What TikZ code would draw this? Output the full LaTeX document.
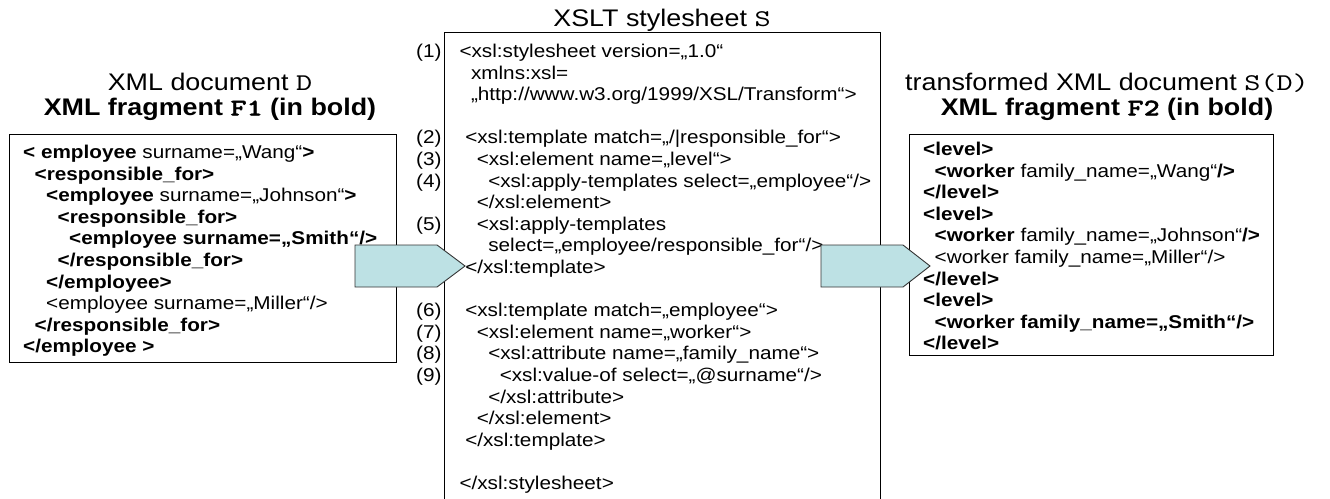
\documentclass[tikz,border=0pt]{standalone}
\usepackage{fontspec}
\setmainfont{Liberation Sans}[FakeStretch=1.12]
\setmonofont{lmmono10-regular.otf}[FakeStretch=1.28, BoldFont=lmmonolt10-bold.otf,
  BoldFeatures={FakeBold=1.5}]
\usetikzlibrary{calc}
\definecolor{flowcyan}{RGB}{189,225,228}
\newlength{\spw}
\setlength{\spw}{5.75pt}
\newcommand{\indt}[1]{\hspace*{#1\spw}}
\newcommand{\codefont}{\fontsize{18.5}{21.6}\selectfont}
\newcommand{\headfont}{\fontsize{24}{25}\selectfont}
\newcommand{\frag}[1]{{\ttfamily\bfseries #1}}

\begin{document}
\begin{tikzpicture}[
  x=1pt, y=-1pt,
  frame/.style={draw, line width=1pt, inner sep=0pt, anchor=north west},
  code/.style={anchor=base west, inner sep=0pt, font=\codefont},
  heading/.style={anchor=base, inner sep=0pt, font=\headfont},
  flow/.style={draw=black!80, line width=0.9pt, fill=flowcyan, line join=miter}
]
\useasboundingbox (0,0) rectangle (1330,498);
% ---- frames -----------------------------------------------------------------
\node[frame, minimum width=387pt, minimum height=228pt] (docD) at (9,134) {};
\node[frame, minimum width=436pt, minimum height=480pt] (xslS) at (444,32) {};
\node[frame, minimum width=364pt, minimum height=221pt] (outSD) at (909,134) {};

% ---- headings ---------------------------------------------------------------
\node[heading] (docDtitle) at (210,90.5) {\begin{tabular}[t]{@{}c@{}}
  XML document \texttt{D}\\ \textbf{XML fragment \frag{F1} (in bold)}\end{tabular}};
\node[heading] (xslStitle) at (662,26.5) {XSLT stylesheet \texttt{S}};
\node[heading] (outSDtitle) at (1107,90.5) {\begin{tabular}[t]{@{}c@{}}
  transformed XML document \texttt{S(D)}\\ \textbf{XML fragment \frag{F2} (in bold)}\end{tabular}};

% ---- texts ------------------------------------------------------------------
\node[code] (docDtext) at (23,158.5) {\begin{tabular}[t]{@{}l@{}}
  \textbf{< employee} surname=„Wang“\textbf{>}\\
  \indt{2}\textbf{<responsible\_for>}\\
  \indt{4}\textbf{<employee} surname=„Johnson“\textbf{>}\\
  \indt{6}\textbf{<responsible\_for>}\\
  \indt{8}\textbf{<employee surname=„Smith“/>}\\
  \indt{6}\textbf{</responsible\_for>}\\
  \indt{4}\textbf{</employee>}\\
  \indt{4}<employee surname=„Miller“/>\\
  \indt{2}\textbf{</responsible\_for>}\\
  \textbf{</employee >}
\end{tabular}};

\node[code] (xslStext) at (416,57.5) {\begin{tabular}[t]{@{}r@{\hspace{18pt}}l@{}}
  (1) & <xsl:stylesheet version=„1.0“\\
      & \indt{2}xmlns:xsl=\\
      & \indt{2}„http://www.w3.org/1999/XSL/Transform“>\\
      & \\
  (2) & \indt{1}<xsl:template match=„/|responsible\_for“>\\
  (3) & \indt{3}<xsl:element name=„level“>\\
  (4) & \indt{5}<xsl:apply-templates select=„employee“/>\\
      & \indt{3}</xsl:element>\\
  (5) & \indt{3}<xsl:apply-templates\\
      & \indt{5}select=„employee/responsible\_for“/>\\
      & \indt{1}</xsl:template>\\
      & \\
  (6) & \indt{1}<xsl:template match=„employee“>\\
  (7) & \indt{3}<xsl:element name=„worker“>\\
  (8) & \indt{5}<xsl:attribute name=„family\_name“>\\
  (9) & \indt{7}<xsl:value-of select=„@surname“/>\\
      & \indt{5}</xsl:attribute>\\
      & \indt{3}</xsl:element>\\
      & \indt{1}</xsl:template>\\
      & \\
      & </xsl:stylesheet>
\end{tabular}};

\node[code] (outSDtext) at (923,155.5) {\begin{tabular}[t]{@{}l@{}}
  \textbf{<level>}\\
  \indt{2}\textbf{<worker} family\_name=„Wang“\textbf{/>}\\
  \textbf{</level>}\\
  \textbf{<level>}\\
  \indt{2}\textbf{<worker} family\_name=„Johnson“\textbf{/>}\\
  \indt{2}<worker family\_name=„Miller“/>\\
  \textbf{</level>}\\
  \textbf{<level>}\\
  \indt{2}\textbf{<worker family\_name=„Smith“/>}\\
  \textbf{</level>}
\end{tabular}};

% ---- block arrows -----------------------------------------------------------
\coordinate (inTail) at (355,266);
\coordinate (inTip) at (465,266);
\coordinate (outTail) at (821,266);
\coordinate (outTip) at (930,266);
\draw[flow] ($(inTail)+(0,-21)$) -- ($(inTip)+(-28,-21)$) -- (inTip)
  -- ($(inTip)+(-28,21)$) -- ($(inTail)+(0,21)$) -- cycle;
\draw[flow] ($(outTail)+(0,-21)$) -- ($(outTip)+(-27,-21)$) -- (outTip)
  -- ($(outTip)+(-27,21)$) -- ($(outTail)+(0,21)$) -- cycle;
\end{tikzpicture}
\end{document}
